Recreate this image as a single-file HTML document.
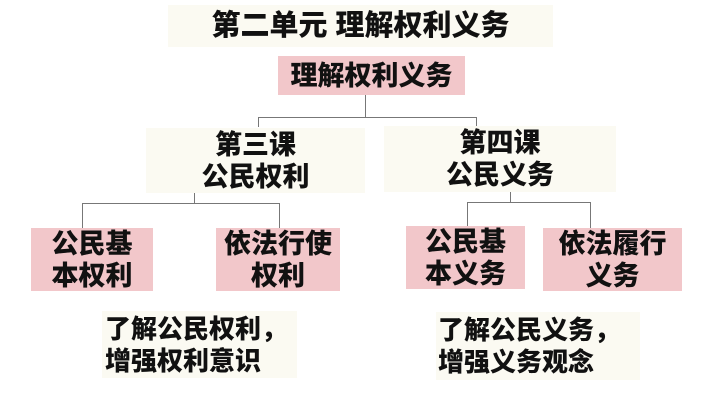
<!DOCTYPE html>
<html><head><meta charset="utf-8"><style>
body{margin:0;width:720px;height:405px;background:#fff;position:relative;overflow:hidden;font-family:"Liberation Sans","Noto Sans CJK SC",sans-serif;font-weight:900;color:#111}
.b{position:absolute;display:flex;align-items:center;justify-content:center;text-align:center;line-height:32px;font-size:27px}
.c{background:#fbfaf2}.p{background:#f2c7ca}
.l{position:absolute;background:#777}
</style></head><body>
<div class="b c" style="left:168px;top:5px;width:385px;height:42px;font-size:29px">第二单元 理解权利义务</div>
<div class="b p" style="left:278px;top:56px;width:187px;height:39px">理解权利义务</div>
<div class="l" style="left:365px;top:95px;width:1px;height:22px"></div>
<div class="l" style="left:258px;top:117px;width:218px;height:1px"></div>
<div class="l" style="left:258px;top:117px;width:1px;height:10px"></div>
<div class="l" style="left:476px;top:117px;width:1px;height:10px"></div>
<div class="b c" style="left:146px;top:128px;width:219px;height:65px">第三课<br>公民权利</div>
<div class="b c" style="left:384px;top:126px;width:232px;height:66px">第四课<br>公民义务</div>
<div class="l" style="left:194px;top:193px;width:1px;height:10px"></div>
<div class="l" style="left:82px;top:203px;width:197px;height:1px"></div>
<div class="l" style="left:82px;top:203px;width:1px;height:25px"></div>
<div class="l" style="left:279px;top:203px;width:1px;height:25px"></div>
<div class="l" style="left:510px;top:192px;width:1px;height:10px"></div>
<div class="l" style="left:467px;top:202px;width:123px;height:1px"></div>
<div class="l" style="left:467px;top:202px;width:1px;height:24px"></div>
<div class="l" style="left:590px;top:202px;width:1px;height:26px"></div>
<div class="b p" style="left:31px;top:228px;width:122px;height:63px">公民基<br>本权利</div>
<div class="b p" style="left:216px;top:228px;width:124px;height:63px">依法行使<br>权利</div>
<div class="b p" style="left:406px;top:226px;width:119px;height:63px">公民基<br>本义务</div>
<div class="b p" style="left:543px;top:228px;width:139px;height:63px">依法履行<br>义务</div>
<div class="b c" style="left:102px;top:311px;width:195px;height:67px;justify-content:flex-start;text-align:left;padding-left:3px;box-sizing:border-box;font-size:26px;white-space:nowrap">了解公民权利，<br>增强权利意识</div>
<div class="b c" style="left:436px;top:312px;width:204px;height:68px;justify-content:flex-start;text-align:left;padding-left:2px;box-sizing:border-box;font-size:26px;white-space:nowrap">了解公民义务，<br>增强义务观念</div>
</body></html>
